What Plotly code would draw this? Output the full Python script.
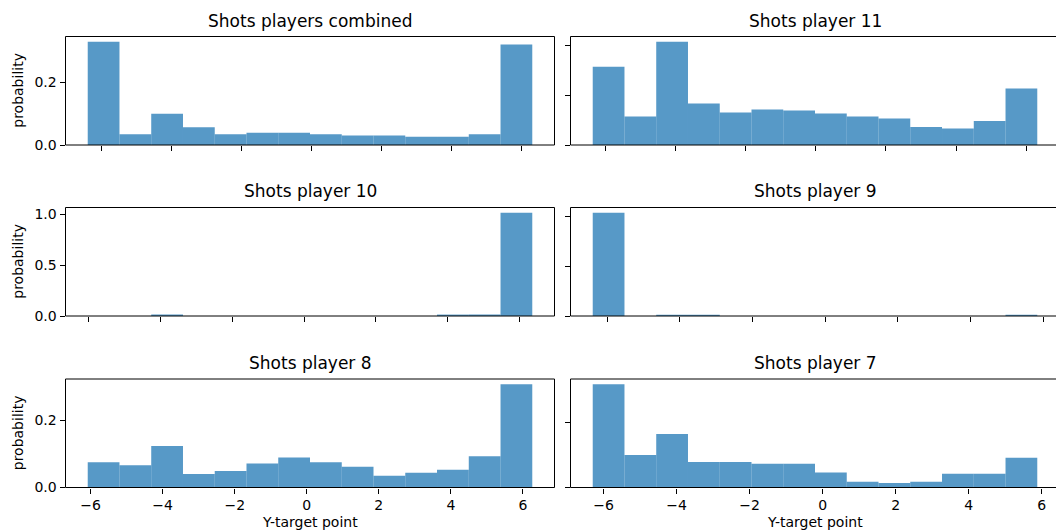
import plotly.graph_objects as go

# ---- data: lowest/highest bin edge and per-bin probability of each panel ----
titles = ["Shots players combined", "Shots player 11",
          "Shots player 10", "Shots player 9",
          "Shots player 8", "Shots player 7"]

combined_range = [-6.40, 6.30]
combined_prob = [0.330, 0.034, 0.100, 0.057, 0.034, 0.039, 0.039,
                 0.034, 0.030, 0.030, 0.026, 0.026, 0.034, 0.321]

p11_range = [-6.35, 6.31]
p11_prob = [0.157, 0.057, 0.207, 0.083, 0.065, 0.071, 0.069,
            0.063, 0.057, 0.053, 0.036, 0.033, 0.048, 0.113]

p10_range = [-6.02, 6.35]
p10_prob = [0.0, 0.0, 0.014, 0.0, 0.0, 0.0, 0.0,
            0.0, 0.0, 0.0, 0.0, 0.014, 0.014, 1.017]

p9_range = [-6.40, 5.84]
p9_prob = [1.040, 0.0, 0.013, 0.013, 0.0, 0.0, 0.0,
           0.0, 0.0, 0.0, 0.0, 0.0, 0.0, 0.013]

p8_range = [-6.08, 6.26]
p8_prob = [0.075, 0.066, 0.123, 0.040, 0.049, 0.071, 0.089,
           0.075, 0.062, 0.035, 0.044, 0.053, 0.093, 0.307]

p7_range = [-6.30, 5.88]
p7_prob = [0.317, 0.100, 0.164, 0.078, 0.078, 0.073, 0.073,
           0.046, 0.018, 0.014, 0.018, 0.042, 0.042, 0.091]

x_ticks = [-6, -4, -2, 0, 2, 4, 6]
y_dticks = [0.2, 0.1, 0.5, 0.5, 0.2, 0.2]

panels = [(combined_range, combined_prob), (p11_range, p11_prob),
          (p10_range, p10_prob), (p9_range, p9_prob),
          (p8_range, p8_prob), (p7_range, p7_prob)]

# ---- layout geometry (pixels) ----
W, H = 1056, 531
col_px = [(65.5, 554.5), (570.5, 1059.5)]     # right column runs past the edge
row_px = [(36.5, 145.0), (207.5, 316.0), (379.0, 487.5)]

BAR = "rgba(31,119,180,0.75)"
FONT = "DejaVu Sans, Arial, sans-serif"
INK = "#000000"

fig = go.Figure()
layout = dict(width=W, height=H, margin=dict(l=0, r=0, t=0, b=0, pad=0),
              autosize=False, template="none",
              paper_bgcolor="white", plot_bgcolor="white",
              showlegend=False, barmode="overlay",
              font=dict(family=FONT, size=14, color=INK))
annotations, shapes = [], []

for i, ((lo, hi), prob) in enumerate(panels):
    r, c = divmod(i, 2)
    n = len(prob)
    w = (hi - lo) / n
    lefts = [lo + k * w for k in range(n)]
    ax = "" if i == 0 else str(i + 1)
    fig.add_trace(go.Bar(x=lefts, y=prob, width=w, offset=0,
                         marker=dict(color=BAR, line=dict(width=0)),
                         xaxis="x" + ax, yaxis="y" + ax, hoverinfo="skip"))

    x0p, x1p = col_px[c]
    y0p, y1p = row_px[r]
    # matplotlib-style 5% x margins around the bins
    span = hi - lo
    xl, xh = lo - 0.05 * span, hi + 0.05 * span
    vis_right = min(x1p, W)
    xh_vis = xl + (xh - xl) * (vis_right - x0p) / (x1p - x0p)
    ymax = 1.05 * max(prob)

    layout["xaxis" + ax] = dict(
        domain=[x0p / W, vis_right / W], anchor="y" + ax,
        range=[xl, xh_vis], tickvals=x_ticks, ticks="outside",
        ticklen=5, tickwidth=1, tickcolor=INK, showgrid=False,
        zeroline=False, showline=False, showticklabels=(r == 2),
        automargin=False,
        tickfont=dict(size=14, color=INK, family=FONT), fixedrange=True)
    layout["yaxis" + ax] = dict(
        domain=[(H - y1p) / H, (H - y0p) / H], anchor="x" + ax,
        range=[0, ymax], dtick=y_dticks[i], tick0=0, tickformat=".1f",
        ticks="outside", ticklen=5, tickwidth=1, tickcolor=INK,
        showgrid=False, zeroline=False, showline=False,
        showticklabels=(c == 0), automargin=False,
        tickfont=dict(size=14, color=INK, family=FONT), fixedrange=True)

    # axes frame
    shapes.append(dict(type="rect", xref="x" + ax + " domain",
                       yref="y" + ax + " domain", x0=0,
                       x1=(x1p - x0p) / (vis_right - x0p), y0=0, y1=1,
                       line=dict(color=INK, width=1), layer="above"))

    # panel title
    annotations.append(dict(text=titles[i], xref="paper", yref="paper",
                            x=(x0p + x1p) / 2 / W, y=(H - y0p) / H,
                            xanchor="center", yanchor="bottom", yshift=4,
                            showarrow=False,
                            font=dict(size=17, color=INK, family=FONT)))
    if c == 0:
        annotations.append(dict(text="probability", xref="paper",
                                yref="paper", x=18 / W,
                                y=(H - (y0p + y1p) / 2) / H,
                                xanchor="center", yanchor="middle",
                                textangle=-90, showarrow=False,
                                font=dict(size=14, color=INK, family=FONT)))
    if r == 2:
        annotations.append(dict(text="Y-target point", xref="paper",
                                yref="paper", x=(x0p + x1p) / 2 / W,
                                y=(H - 522) / H, xanchor="center",
                                yanchor="middle", showarrow=False,
                                font=dict(size=14, color=INK, family=FONT)))

layout["annotations"] = annotations
layout["shapes"] = shapes
fig.update_layout(**layout)
fig.write_html("out.html")
